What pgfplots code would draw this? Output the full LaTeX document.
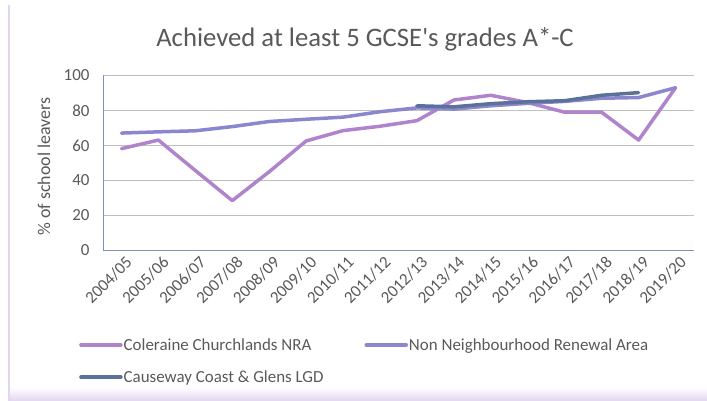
\documentclass[border=0pt]{standalone}
\usepackage{pgfplots}
\pgfplotsset{compat=1.18}
\usepackage{fontspec}
\setmainfont{Carlito}
\definecolor{cole}{HTML}{B084CC}
\definecolor{nnra}{HTML}{8A87CF}
\definecolor{ccg}{HTML}{5B7199}
\definecolor{axcol}{HTML}{7F91BF}
\definecolor{txt}{HTML}{595959}
\definecolor{grid}{HTML}{D9D9D9}
\definecolor{frame}{HTML}{E3D5F0}
\begin{document}
\begin{tikzpicture}
\path[use as bounding box] (0bp,0bp) rectangle (707bp,401bp);
\shade[top color=white, bottom color=frame] (9bp,0bp) rectangle (707bp,14bp);
\fill[frame] (8bp,0bp) rectangle (10bp,396bp);
\begin{axis}[
  at={(103bp,150.5bp)}, anchor=south west,
  scale only axis, width=591bp, height=175bp,
  xmin=-0.5, xmax=15.5, ymin=0, ymax=100,
  xtick={0,...,15},
  xticklabels={2004/05,2005/06,2006/07,2007/08,2008/09,2009/10,2010/11,2011/12,2012/13,2013/14,2014/15,2015/16,2016/17,2017/18,2018/19,2019/20},
  ytick={0,20,40,60,80,100},
  /pgf/number format/assume math mode=true,
  major tick length=0pt,
  xtick style={draw=none}, ytick style={draw=none},
  xmajorgrids=false,
  axis x line*=bottom, axis y line*=left,
  axis line style={axcol, line width=1pt, -},
  ymajorgrids, grid style={grid, line width=0.9pt},
  tick label style={font=\fontsize{17}{20}\selectfont, text=txt},
  xticklabel style={rotate=45, anchor=east, inner sep=1bp, yshift=-12bp},
  yticklabel style={xshift=-10bp},
  every axis y label/.style={at={(axis description cs:-0.0998,0.48)}, rotate=90, anchor=center},
  ylabel={\% of school leavers},
  ylabel style={font=\fontsize{18}{21}\selectfont, text=txt},
  title={Achieved at least 5 GCSE\textquotesingle s grades A*-C},
  title style={at={(axis description cs:0.4433,1.129)}, anchor=base, font=\fontsize{26.8}{31}\selectfont, text=txt},
  legend columns=2,
  legend cell align=left,
  legend style={draw=none, fill=none, at={(axis description cs:-0.0406,-0.495)}, anchor=north west,
    inner sep=0pt, row sep=17bp, font=\fontsize{17}{20}\selectfont, text=txt,
    nodes={inner sep=1bp},
    /tikz/every even column/.append style={column sep=40bp}},
  legend image code/.code={\draw[#1] (0bp,0bp) -- (40bp,0bp);},
  every axis plot/.append style={line width=3.5bp, line join=round, line cap=round},
]
\addplot[cole] coordinates {(0,58.2) (1,63.1) (2,45.7) (3,28.5) (4,45.0) (5,62.6) (6,68.5) (7,71.0) (8,74.2) (9,86.0) (10,88.7) (11,84.5) (12,79.0) (13,79.0) (14,63.1) (15,93.0)};
\addlegendentry{Coleraine Churchlands NRA}
\addplot[nnra] coordinates {(0,67.1) (1,67.8) (2,68.4) (3,70.8) (4,73.7) (5,75.0) (6,76.2) (7,79.3) (8,81.5) (9,80.8) (10,82.7) (11,84.1) (12,85.2) (13,87.0) (14,87.4) (15,93.0)};
\addlegendentry{Non Neighbourhood Renewal Area}
\addplot[ccg] coordinates {(8,82.7) (9,82.1) (10,83.9) (11,85.0) (12,85.6) (13,88.7) (14,90.2)};
\addlegendentry{Causeway Coast \& Glens LGD}
\end{axis}
\end{tikzpicture}
\end{document}
